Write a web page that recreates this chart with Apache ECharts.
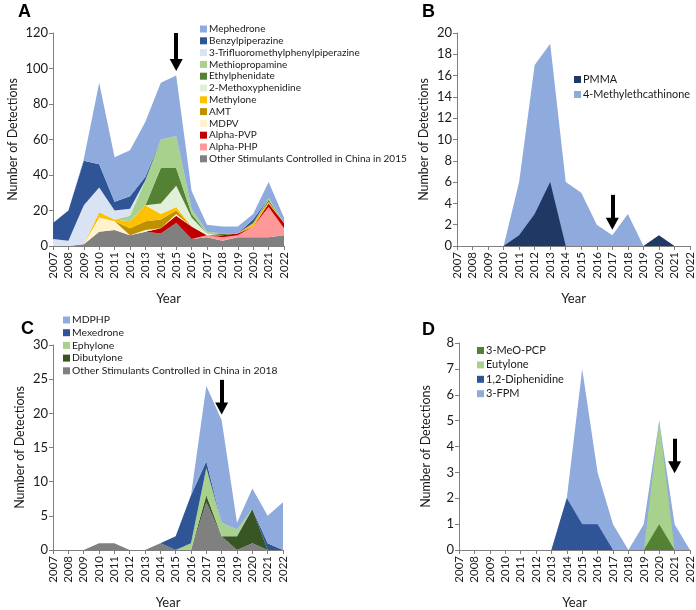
<!DOCTYPE html>
<html>
<head>
<meta charset="utf-8">
<script src="https://cdn.jsdelivr.net/npm/echarts@6/dist/echarts.min.js"></script>
<style>
  html, body { margin: 0; padding: 0; background: #fff; }
  #chart { width: 696px; height: 610px; }
</style>
</head>
<body>
<div id="chart"></div>
<script>
// shared x categories
const years = ['2007','2008','2009','2010','2011','2012','2013','2014','2015','2016','2017','2018','2019','2020','2021','2022'];

// panel A (stack order, bottom first)
const aOther        = [0, 0, 1, 8, 9, 6, 8, 7, 13, 4, 5, 3, 5, 5, 5, 6];
const aAlphaPHP     = [0, 0, 0, 0, 0, 0, 0, 0, 0, 0, 1, 2, 1, 6, 17, 4];
const aAlphaPVP     = [0, 0, 0, 0, 0, 0, 0, 3, 4, 7, 0, 1, 1, 0, 2, 3];
const aMDPV         = [0, 0, 0, 8, 5, 0, 1, 0, 1, 0, 0, 0, 0, 0, 0, 0];
const aAMT          = [0, 0, 0, 0, 0, 4, 5, 5, 2, 0, 0, 0, 0, 0, 0, 0];
const aMethylone    = [0, 0, 0, 3, 1, 4, 9, 3, 2, 0, 0, 0, 0, 2, 1, 0];
const aMethoxyphen  = [0, 0, 0, 0, 0, 0, 0, 6, 12, 5, 1, 0, 0, 0, 0, 0];
const aEthylphen    = [0, 0, 0, 0, 0, 0, 0, 20, 10, 2, 0, 1, 0, 0, 1, 0];
const aMPA          = [0, 0, 0, 0, 0, 3, 14, 16, 18, 3, 1, 0, 0, 0, 1, 0];
const aTFMPP        = [4, 3, 22, 14, 5, 4, 0, 0, 0, 0, 0, 0, 0, 0, 0, 0];
const aBZP          = [9, 17, 25, 13, 5, 7, 2, 0, 0, 0, 0, 0, 0, 2, 0, 0];
const aMephedrone   = [0, 0, 1, 46, 25, 26, 31, 32, 34, 10, 4, 4, 4, 3, 9, 3];

// panel B (overlapping, not stacked)
const bPMMA = [0, 0, 0, 0, 1, 3, 6, 0, 0, 0, 0, 0, 0, 1, 0, 0];
const bMEC  = [0, 0, 0, 0, 6, 17, 19, 6, 5, 2, 1, 3, 0, 0, 0, 0];

// panel C (stack order, bottom first)
const cOther      = [0, 0, 0, 1, 1, 0, 0, 1, 0, 0, 7, 2, 0, 1, 0, 0];
const cDibutylone = [0, 0, 0, 0, 0, 0, 0, 0, 0, 0, 1, 0, 2, 5, 0, 0];
const cEphylone   = [0, 0, 0, 0, 0, 0, 0, 0, 0, 1, 4, 2, 1, 0, 0, 0];
const cMexedrone  = [0, 0, 0, 0, 0, 0, 0, 0, 2, 7, 1, 0, 0, 0, 1, 0];
const cMDPHP      = [0, 0, 0, 0, 0, 0, 0, 0, 0, 0, 11, 15, 1, 3, 4, 7];

// panel D (overlapping, not stacked)
const dFPM   = [0, 0, 0, 0, 0, 0, 0, 2, 7, 3, 1, 0, 1, 5, 1, 0];
const dDiph  = [0, 0, 0, 0, 0, 0, 0, 2, 1, 1, 0, 0, 0, 0, 0, 0];
const dEuty  = [0, 0, 0, 0, 0, 0, 0, 0, 0, 0, 0, 0, 0, 5, 0, 0];
const dMeO   = [0, 0, 0, 0, 0, 0, 0, 0, 0, 0, 0, 0, 0, 1, 0, 0];

// y axis ranges per panel
const yMax = [120, 20, 30, 8];
const yStep = [20, 2, 5, 1];

// arrows: [year, from, to]
const arrows = [['2015', 120, 102], ['2017', 4.8, 2.1], ['2018', 24.9, 20.7], ['2021', 4.3, 3.2]];

const FONT = 'Lato';
const TXT = '#1a1a1a';
const AXIS = '#7f7f7f';

const grids = [
    { left: 53, top: 33, width: 231, height: 213 },
    { left: 457, top: 33, width: 233, height: 213 },
    { left: 53, top: 345, width: 230, height: 213 },
    { left: 459, top: 343, width: 231, height: 215 }
];

const xAxes = grids.map((g, i) => ({
    type: 'category',
    gridIndex: i,
    data: years,
    boundaryGap: false,
    name: 'Year',
    nameLocation: 'middle',
    nameGap: 46,
    nameTextStyle: { fontFamily: FONT, fontSize: 13, color: TXT },
    axisLine: { lineStyle: { color: AXIS, width: 1 } },
    axisTick: { show: true, length: 4, interval: 0, lineStyle: { color: AXIS } },
    axisLabel: { rotate: 90, interval: 0, margin: 6, fontFamily: FONT, fontSize: 11.5, color: TXT },
    splitLine: { show: false }
}));

const yAxes = grids.map((g, i) => ({
    type: 'value',
    gridIndex: i,
    min: 0,
    max: yMax[i],
    interval: yStep[i],
    name: 'Number of Detections',
    nameLocation: 'middle',
    nameGap: i === 0 ? 34 : 27,
    nameTextStyle: { fontFamily: FONT, fontSize: 12.5, color: TXT },
    axisLine: { show: true, lineStyle: { color: AXIS, width: 1 } },
    axisTick: { show: true, length: 4, lineStyle: { color: AXIS } },
    axisLabel: { margin: 5, fontFamily: FONT, fontSize: 13, color: TXT },
    splitLine: { show: false }
}));

function area(name, data, color, gi, stack) {
    return {
        name,
        type: 'line',
        xAxisIndex: gi,
        yAxisIndex: gi,
        data,
        stack,
        symbol: 'none',
        silent: true,
        lineStyle: { width: 0, color },
        itemStyle: { color },
        areaStyle: { color, opacity: 1 }
    };
}

const series = [
    area('Other Stimulants Controlled in China in 2015', aOther, '#808080', 0, 'a'),
    area('Alpha-PHP', aAlphaPHP, '#ff9999', 0, 'a'),
    area('Alpha-PVP', aAlphaPVP, '#c00000', 0, 'a'),
    area('MDPV', aMDPV, '#fff2cc', 0, 'a'),
    area('AMT', aAMT, '#bf9000', 0, 'a'),
    area('Methylone', aMethylone, '#ffc000', 0, 'a'),
    area('2-Methoxyphenidine', aMethoxyphen, '#e2f0d9', 0, 'a'),
    area('Ethylphenidate', aEthylphen, '#548235', 0, 'a'),
    area('Methiopropamine', aMPA, '#a9d18e', 0, 'a'),
    area('3-Trifluoromethylphenylpiperazine', aTFMPP, '#dae3f3', 0, 'a'),
    area('Benzylpiperazine', aBZP, '#2f5597', 0, 'a'),
    area('Mephedrone', aMephedrone, '#8faadc', 0, 'a'),

    area('4-Methylethcathinone', bMEC, '#8faadc', 1),
    area('PMMA', bPMMA, '#1f3864', 1),

    area('Other Stimulants Controlled in China in 2018', cOther, '#808080', 2, 'c'),
    area('Dibutylone', cDibutylone, '#375623', 2, 'c'),
    area('Ephylone', cEphylone, '#a9d18e', 2, 'c'),
    area('Mexedrone', cMexedrone, '#2f5597', 2, 'c'),
    area('MDPHP', cMDPHP, '#8faadc', 2, 'c'),

    area('3-FPM', dFPM, '#8faadc', 3),
    area('1,2-Diphenidine', dDiph, '#2f5597', 3),
    area('Eutylone', dEuty, '#a9d18e', 3),
    area('3-MeO-PCP', dMeO, '#548235', 3)
];

// arrows drawn in data coordinates on empty helper series
arrows.forEach((a, i) => {
    series.push({
        type: 'line',
        xAxisIndex: i,
        yAxisIndex: i,
        data: [],
        silent: true,
        markLine: {
            silent: true,
            symbol: ['none', 'triangle'],
            symbolSize: [13, 12],
            label: { show: false },
            lineStyle: { color: '#000', width: 4, type: 'solid' },
            data: [[{ coord: [a[0], a[1]] }, { coord: [a[0], a[2]] }]]
        }
    });
});

function legend(names, left, top, fontSize, gap) {
    return {
        orient: 'vertical',
        left,
        top,
        padding: 0,
        itemWidth: 7,
        itemHeight: 7,
        itemGap: gap,
        icon: 'rect',
        selectedMode: false,
        textStyle: { fontFamily: FONT, fontSize, color: TXT, padding: [0, 0, 0, -3] },
        data: names
    };
}

const legends = [
    legend(['Mephedrone', 'Benzylpiperazine', '3-Trifluoromethylphenylpiperazine', 'Methiopropamine',
        'Ethylphenidate', '2-Methoxyphenidine', 'Methylone', 'AMT', 'MDPV', 'Alpha-PVP', 'Alpha-PHP',
        'Other Stimulants Controlled in China in 2015'], 200, 24, 10, 1.8),
    legend(['PMMA', '4-Methylethcathinone'], 574, 74, 10.9, 4),
    legend(['MDPHP', 'Mexedrone', 'Ephylone', 'Dibutylone', 'Other Stimulants Controlled in China in 2018'],
        63, 315, 10.4, 2.7),
    legend(['3-MeO-PCP', 'Eutylone', '1,2-Diphenidine', '3-FPM'], 477, 345, 11, 3.4)
];

const letterStyle = { fontFamily: 'Liberation Sans', fontSize: 18, fontWeight: 'bold', color: '#000' };
const titles = [['A', 18, 3], ['B', 422, 3], ['C', 21, 320], ['D', 422, 321]].map(t => ({
    text: t[0], left: t[1], top: t[2], padding: 0, textStyle: letterStyle
}));

const chart = echarts.init(document.getElementById('chart'), null, { renderer: 'canvas' });
chart.setOption({
    backgroundColor: '#fff',
    animation: false,
    title: titles,
    legend: legends,
    grid: grids,
    xAxis: xAxes,
    yAxis: yAxes,
    series
});
</script>
</body>
</html>
